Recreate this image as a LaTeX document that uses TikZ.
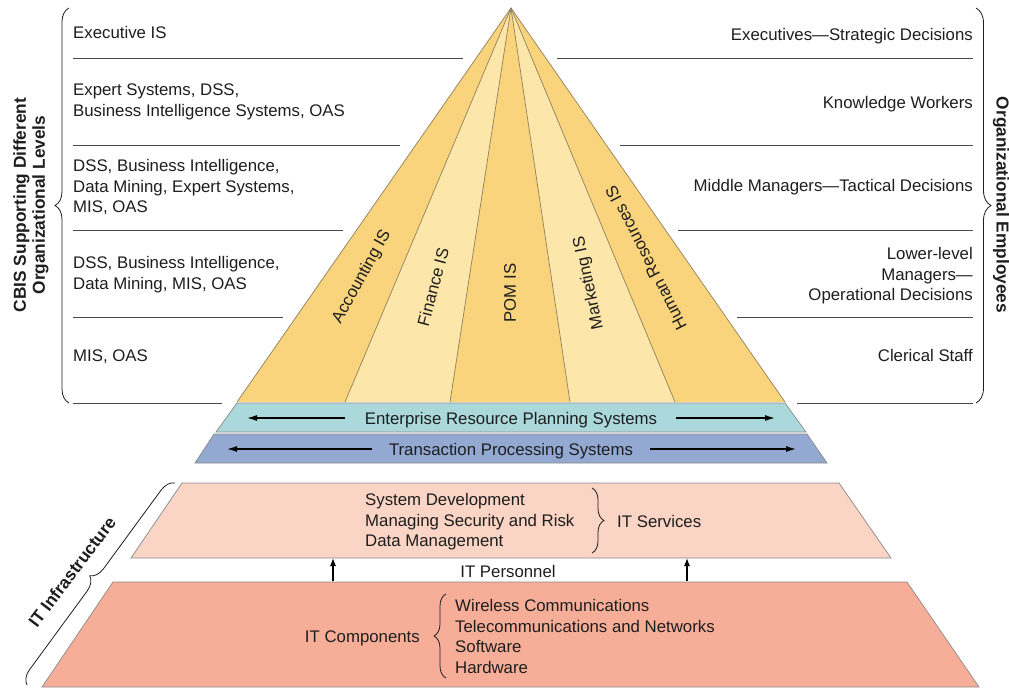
\documentclass[tikz,border=0pt]{standalone}
\usepackage{fontspec}
\setmainfont{Liberation Sans}
\usetikzlibrary{arrows.meta,decorations.pathreplacing}
\definecolor{ydark}{HTML}{F9D47C}
\definecolor{ylight}{HTML}{FCE6AA}
\definecolor{erpc}{HTML}{ABD8DB}
\definecolor{tpsc}{HTML}{94A9D2}
\definecolor{svc}{HTML}{FAD4C4}
\definecolor{cmp}{HTML}{F7AE98}
\definecolor{pyrline}{HTML}{8F7F5A}
\definecolor{edgegray}{HTML}{8A8A8A}
\definecolor{rulec}{HTML}{4A4A4A}
\definecolor{txtc}{HTML}{1E1E1E}
\begin{document}
\begin{tikzpicture}[x=1pt,y=-1pt,
  txt/.style={font=\fontsize{16.8}{20.7}\selectfont, inner sep=0pt, text=txtc},
  ltxt/.style={txt, anchor=north west, align=left},
  rtxt/.style={txt, anchor=north east, align=right},
  plab/.style={txt, anchor=center},
  boldtxt/.style={font=\fontsize{17.3}{19}\selectfont\bfseries, inner sep=0pt, text=txtc},
  rulel/.style={draw=rulec, line width=0.9pt},
  pyr/.style={draw=pyrline, line width=0.7pt},
  band/.style={draw=edgegray, line width=0.7pt},
  arr/.style={-{Latex[length=10pt,width=6pt]}, line width=1.3pt, draw=black},
  parr/.style={-{Latex[length=8pt,width=6pt]}, line width=1.2pt, draw=black},
  brc/.style={decorate, decoration={brace, amplitude=#1}, line width=0.8pt, draw=txtc}
]
\useasboundingbox[fill=white] (0,0) rectangle (1009,688);

% ---------- pyramid ----------
\coordinate (A) at (511,8);
\coordinate (b0) at (237,402);
\coordinate (b1) at (345,402);
\coordinate (b2) at (450,402);
\coordinate (b3) at (570,402);
\coordinate (b4) at (675,402);
\coordinate (b5) at (785,402);
\fill[ydark] (A) -- (b0) -- (b1) -- cycle;
\fill[ylight] (A) -- (b1) -- (b2) -- cycle;
\fill[ydark] (A) -- (b2) -- (b3) -- cycle;
\fill[ylight] (A) -- (b3) -- (b4) -- cycle;
\fill[ydark] (A) -- (b4) -- (b5) -- cycle;
\draw[pyr] (b0) -- (A) -- (b5);
\draw[pyr] (A) -- (b1);
\draw[pyr] (A) -- (b2);
\draw[pyr] (A) -- (b3);
\draw[pyr] (A) -- (b4);

\node[plab, rotate=61] (acc) at (362,277) {Accounting IS};
\node[plab, rotate=75] (fin) at (433,287) {Finance IS};
\node[plab, rotate=90] (pom) at (510,293) {POM IS};
\node[plab, rotate=102] (mkt) at (589,283) {Marketing IS};
\node[plab, rotate=117] (hr) at (646,258) {Human Resources IS};

% ---------- ERP / TPS ----------
\filldraw[band, fill=erpc] (237,403) -- (785,403) -- (806,432) -- (216,432) -- cycle;
\filldraw[band, fill=tpsc] (214,434) -- (807,434) -- (827,463) -- (195,463) -- cycle;
\node[txt, anchor=base] (erp) at (511,424) {Enterprise Resource Planning Systems};
\node[txt, anchor=base] (tps) at (511,455) {Transaction Processing Systems};
\coordinate (erpLs) at (345,418);
\coordinate (erpLe) at (247,418);
\coordinate (erpRs) at (676,418);
\coordinate (erpRe) at (775,418);
\coordinate (tpsLs) at (372,449);
\coordinate (tpsLe) at (227,449);
\coordinate (tpsRs) at (650,449);
\coordinate (tpsRe) at (796,449);
\draw[arr] (erpLs) -- (erpLe);
\draw[arr] (erpRs) -- (erpRe);
\draw[arr] (tpsLs) -- (tpsLe);
\draw[arr] (tpsRs) -- (tpsRe);

% ---------- left texts and rules ----------
\node[ltxt] (l1) at (73,26) {Executive IS};
\node[ltxt] (l2) at (73,84) {Expert Systems, DSS,\\Business Intelligence Systems, OAS};
\node[ltxt] (l3) at (73,159) {DSS, Business Intelligence,\\Data Mining, Expert Systems,\\MIS, OAS};
\node[ltxt] (l4) at (73,256) {DSS, Business Intelligence,\\Data Mining, MIS, OAS};
\node[ltxt] (l5) at (73,350) {MIS, OAS};
\draw[rulel] (73,58) -- (463,58);
\draw[rulel] (73,145) -- (400,145);
\draw[rulel] (73,230) -- (343,230);
\draw[rulel] (73,317) -- (283,317);
\draw[rulel] (73,403) -- (222,403);

% ---------- right texts and rules ----------
\node[rtxt] (r1) at (973,28) {Executives—Strategic Decisions};
\node[rtxt] (r2) at (973,96) {Knowledge Workers};
\node[rtxt] (r3) at (973,179) {Middle Managers—Tactical Decisions};
\node[rtxt] (r4) at (973,247) {Lower-level\\Managers—\\Operational Decisions};
\node[rtxt] (r5) at (973,349) {Clerical Staff};
\draw[rulel] (557,58) -- (973,58);
\draw[rulel] (620,145) -- (973,145);
\draw[rulel] (678,230) -- (973,230);
\draw[rulel] (737,317) -- (973,317);
\draw[rulel] (797,403) -- (973,403);

% ---------- side braces ----------
\draw[brc=14pt] (69,403) -- (69,8);
\draw[brc=15pt] (976,8) -- (976,403);
\node[boldtxt, rotate=90, align=center] (cbis) at (31,205) {CBIS Supporting Different\\Organizational Levels};
\node[boldtxt, rotate=-90] (oe) at (1001,205) {Organizational Employees};

% ---------- IT infrastructure ----------
\filldraw[band, fill=svc] (182,483) -- (839,483) -- (891,558) -- (131,558) -- cycle;
\filldraw[band, fill=cmp] (113,582) -- (907,582) -- (979,687) -- (42,687) -- cycle;

\node[ltxt] (sd) at (365,493) {System Development\\Managing Security and Risk\\Data Management};
\draw[brc=12pt] (592,488) -- (592,553);
\node[txt, anchor=west] (its) at (617,521) {IT Services};

\node[txt] (itp) at (508,571) {IT Personnel};
\coordinate (p1s) at (333,581);
\coordinate (p1e) at (333,558);
\coordinate (p2s) at (687,581);
\coordinate (p2e) at (687,558);
\draw[parr] (p1s) -- (p1e);
\draw[parr] (p2s) -- (p2e);

\node[txt, anchor=base east] (itc) at (420,642) {IT Components};
\draw[brc=12pt] (446,678) -- (446,594);
\node[ltxt] (items) at (455,599) {Wireless Communications\\Telecommunications and Networks\\Software\\Hardware};

\draw[brc=14pt] (27,685) -- (175,483);
\node[boldtxt, rotate=53] (iti) at (72,572) {IT Infrastructure};
\end{tikzpicture}
\end{document}
